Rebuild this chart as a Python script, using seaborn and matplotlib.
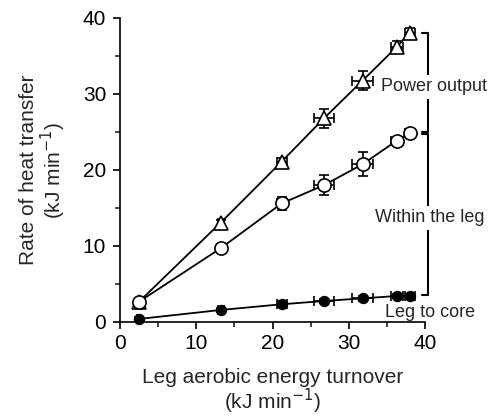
import matplotlib
matplotlib.use("Agg")
import matplotlib.pyplot as plt
import seaborn as sns
import pandas as pd
import numpy as np

# Data
turnover = [2.5, 13.2, 21.2, 26.75, 31.8, 36.3, 38.0]
turnover_err = [0.3, 0.4, 0.65, 1.3, 1.35, 0.75, 0.65]
total_heat = [2.67, 13.07, 21.1, 26.8, 31.75, 36.2, 38.06]
total_err = [0.3, 0.4, 0.5, 1.25, 1.3, 0.7, 0.55]
within_leg = [2.67, 9.7, 15.6, 18.0, 20.75, 23.86, 24.9]
within_err = [0.3, 0.4, 0.9, 1.3, 1.6, 0.4, 0.5]
leg_core = [0.4, 1.58, 2.33, 2.76, 3.11, 3.42, 3.42]
core_err = [0.2, 0.3, 0.4, 0.3, 0.3, 0.3, 0.3]
xticks = [0, 10, 20, 30, 40]
yticks = [0, 10, 20, 30, 40]

sns.set_style("ticks")
plt.rcParams['font.family'] = ['Liberation Sans', 'DejaVu Sans']

fig = plt.figure(figsize=(4.92, 4.16), dpi=100)
ax = fig.add_axes([0.244, 0.226, 0.62, 0.731])

series = [
    (total_heat, total_err, '^', 'white', 9.5, 3),
    (within_leg, within_err, 'o', 'white', 9.5, 4),
    (leg_core, core_err, 'o', 'black', 7, 5),
]
for y, yerr, mk, fc, ms, z in series:
    ax.errorbar(turnover, y, xerr=turnover_err, yerr=yerr, fmt='none',
                ecolor='black', elinewidth=1.2, capsize=3.6, capthick=1.2,
                zorder=2, clip_on=False)
    df = pd.DataFrame({'x': turnover, 'y': y})
    sns.lineplot(data=df, x='x', y='y', ax=ax, color='black', lw=1.3,
                 marker=mk, markersize=ms, markerfacecolor=fc,
                 markeredgecolor='black', markeredgewidth=1.2,
                 sort=False, estimator=None, zorder=z, clip_on=False)

ax.set_xlim(0, 40)
ax.set_ylim(0, 40)
ax.set_xticks(xticks)
ax.set_yticks(yticks)
ax.set_xticks([5, 15, 25, 35], minor=True)
ax.set_yticks([5, 15, 25, 35], minor=True)
ax.tick_params(which='major', length=5, width=1.2, labelsize=15, colors='black')
ax.tick_params(axis='y', which='major', pad=5)
ax.tick_params(which='minor', length=3.5, width=1.2)
for s in ['left', 'bottom']:
    ax.spines[s].set_linewidth(1.2)
    ax.spines[s].set_color('black')
sns.despine(ax=ax)

ax.set_xlabel('Leg aerobic energy turnover\n(kJ min$^{-1}$)', fontsize=15,
              labelpad=11, linespacing=1.0)
ax.set_ylabel('Rate of heat transfer\n(kJ min$^{-1}$)', fontsize=15,
              labelpad=11, linespacing=1.0)

# Brackets
bx = 40.35
cx = 39.6
def bracket(y0, y1):
    ax.plot([cx, bx, bx, cx], [y0, y0, y1, y1], color='black', lw=1.5,
            clip_on=False, zorder=1)
bracket(38.0, 25.05)
bracket(24.75, 3.55)

txt = dict(fontsize=13, ha='center', va='center', zorder=6,
           bbox=dict(facecolor='white', edgecolor='none', pad=2.5))
ax.text(41.15, 30.95, 'Power output', **txt)
ax.text(40.6, 13.7, 'Within the leg', **txt)
ax.text(40.6, 1.3, 'Leg to core', fontsize=13, ha='center', va='center', zorder=6)

fig.savefig('out.png', dpi=100)
